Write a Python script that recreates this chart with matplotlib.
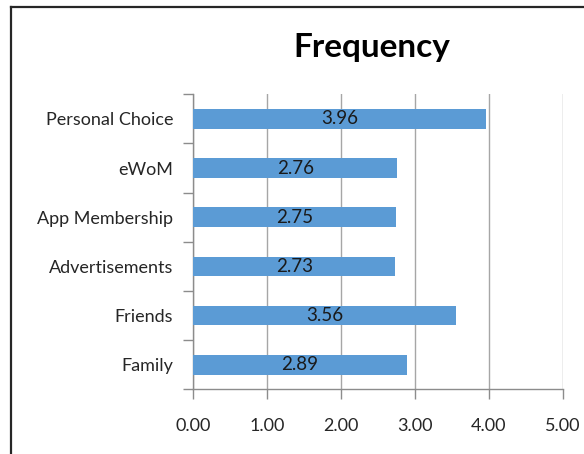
import matplotlib
matplotlib.use("Agg")
import matplotlib.pyplot as plt
from matplotlib.lines import Line2D
from matplotlib.ticker import FixedLocator

categories = ["Family", "Friends", "Advertisements", "App Membership", "eWoM", "Personal Choice"]
values = [2.89, 3.56, 2.73, 2.75, 2.76, 3.96]
x_ticks = [0, 1, 2, 3, 4, 5]
x_labels = ["0.00", "1.00", "2.00", "3.00", "4.00", "5.00"]

plt.rcParams['font.family'] = ['Lato', 'DejaVu Sans']

W, H = 584, 454
fig = plt.figure(figsize=(W / 100, H / 100), dpi=100)
ax = fig.add_axes([193.3 / W, 1 - 389.3 / H, (562.7 - 193.3) / W, (389.3 - 94.3) / H])

pos = list(range(len(categories)))
ax.barh(pos, values, height=0.4, color="#5B9BD5", zorder=3)
for p, v in zip(pos, values):
    ax.text(v / 2, p, f"{v:.2f}", ha="center", va="center", fontsize=13.5,
            color="#1a1a1a", zorder=4)

ax.set_xlim(0, 5)
ax.set_ylim(-0.5, len(categories) - 0.5)
ax.set_xticks(x_ticks)
ax.set_xticklabels(x_labels)
ax.set_yticks(pos)
ax.set_yticklabels(categories)
ax.yaxis.set_minor_locator(FixedLocator([p - 0.5 for p in range(len(categories) + 1)]))

ax.grid(axis="x", color="#A6A6A6", linewidth=1.0, zorder=0)
for side in ["top", "right"]:
    ax.spines[side].set_visible(False)
for side in ["left", "bottom"]:
    ax.spines[side].set_color("#8C8C8C")
    ax.spines[side].set_linewidth(1.0)

ax.tick_params(axis="x", which="major", length=7, width=1, color="#8C8C8C",
               pad=14, labelsize=13, labelcolor="#262626")
ax.tick_params(axis="y", which="major", length=0, pad=14.5, labelsize=13,
               labelcolor="#262626")
ax.tick_params(axis="y", which="minor", length=7, width=1, color="#8C8C8C")

fig.text(372 / W, 1 - 47 / H, "Frequency", ha="center", va="center",
         fontsize=24, fontweight="bold", color="black")

# outer chart frame (cropped at right and bottom)
fig.add_artist(Line2D([10.5 / W, 10.5 / W], [0, 1 - 6.5 / H], color="#262626",
                      linewidth=1.6, transform=fig.transFigure))
fig.add_artist(Line2D([10.5 / W, 1], [1 - 6.5 / H, 1 - 6.5 / H], color="#262626",
                      linewidth=1.6, transform=fig.transFigure))

fig.savefig("out.png", dpi=100)
